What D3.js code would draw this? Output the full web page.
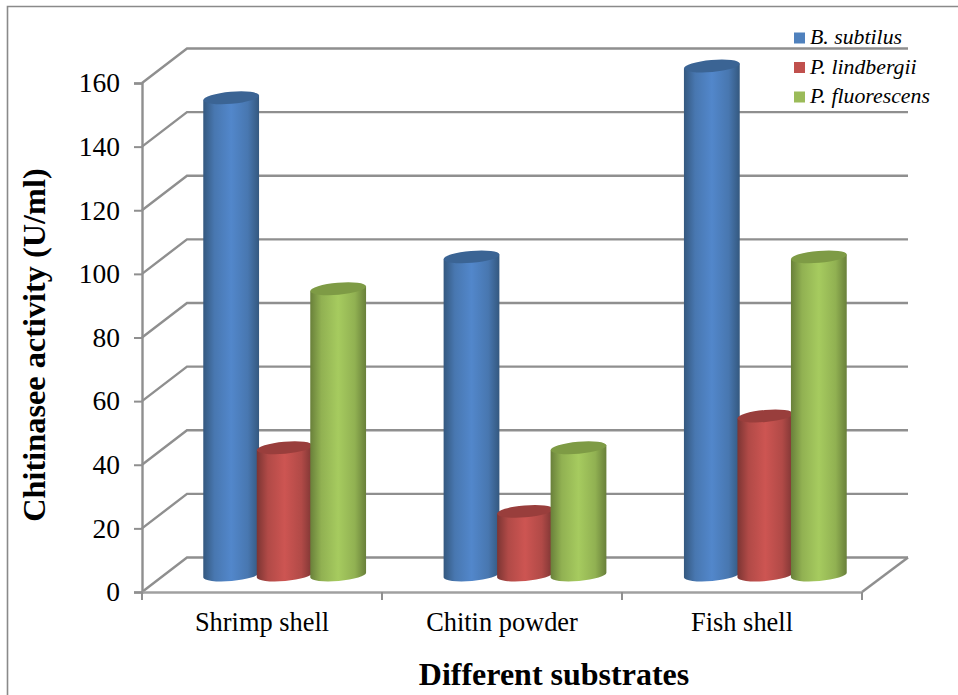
<!DOCTYPE html>
<html><head>
<meta charset="utf-8">
<script src="https://d3js.org/d3.v7.min.js"></script>
<style>
html,body{margin:0;padding:0;background:#fff;overflow:hidden}
text{font-family:"Liberation Serif",serif;fill:#000}
</style>
</head><body>
<svg id="chart" width="958" height="695"></svg>
<script>
const categories = ["Shrimp shell", "Chitin powder", "Fish shell"];
const seriesNames = ["B. subtilus", "P. lindbergii", "P. fluorescens"];
const subtilus = [150, 100, 160];
const lindbergii = [40, 20, 50];
const fluorescens = [90, 40, 100];
const yTicks = [0, 20, 40, 60, 80, 100, 120, 140, 160];
const seriesValues = [subtilus, lindbergii, fluorescens];
const fills = [
    {edge: "#34587f", mid: "#5287cb", top: "#3b6494"},
    {edge: "#7c3533", mid: "#cd5552", top: "#993e3c"},
    {edge: "#69803a", mid: "#a6cb5f", top: "#7e9b45"}
];
const swatches = ["#4f81bd", "#c0504d", "#9bbb59"];

const svg = d3.select("#chart");
const gray = "#8f8f8f";

// outer frame, only top and left survive in the picture
svg.append("path").attr("d", "M958,6.5H7.5V695").attr("fill", "none").attr("stroke", "#8a8a8a").attr("stroke-width", 1.6);

// front plane, back wall and the plane the cylinders stand on
const yFront = d3.scaleLinear().domain([0, 160]).range([592, 83]);
const yBack = d3.scaleLinear().domain([0, 160]).range([557.5, 48.5]);
const yBar = d3.scaleLinear().domain([0, 160]).range([575, 66]);
const xFront = d3.scaleBand().domain(categories).range([142, 862]);
const xBar = d3.scaleBand().domain(categories).range([164.5, 885.5]);
const xSeries = d3.scaleBand().domain(seriesNames).range([-80.25, 80.25]);
const depth = 45;
const xLeft = 142, xRight = 862;

// gradients
const defs = svg.append("defs");
fills.forEach((f, i) => {
    const g = defs.append("linearGradient").attr("id", "cyl" + i);
    g.append("stop").attr("offset", "0%").attr("stop-color", f.edge);
    g.append("stop").attr("offset", "20%").attr("stop-color", d3.interpolateRgb(f.edge, f.mid)(0.65));
    g.append("stop").attr("offset", "50%").attr("stop-color", f.mid);
    g.append("stop").attr("offset", "80%").attr("stop-color", d3.interpolateRgb(f.edge, f.mid)(0.65));
    g.append("stop").attr("offset", "100%").attr("stop-color", f.edge);
});

// gridlines on the wall and the floor
yTicks.forEach((d) => {
    svg.append("path")
        .attr("d", `M${xLeft},${yFront(d)}L${xLeft + depth},${yBack(d)}H${xRight + depth + 1}`)
        .attr("fill", "none").attr("stroke", gray).attr("stroke-width", 2.4);
});
svg.append("line")
    .attr("x1", xRight).attr("y1", yFront(0)).attr("x2", xRight + depth + 1).attr("y2", yBack(0))
    .attr("stroke", gray).attr("stroke-width", 2.4);

// y axis
const yAxis = svg.append("g").attr("transform", `translate(${xLeft},0)`)
    .call(d3.axisLeft(yFront).tickValues(yTicks).tickSize(8).tickPadding(14));
yAxis.selectAll(".domain").attr("stroke", gray).attr("stroke-width", 2.4);
yAxis.selectAll("line").attr("stroke", gray).attr("stroke-width", 2);
yAxis.selectAll("text").style("font-size", "27.5px").style("font-family", '"Liberation Serif",serif').attr("fill", "#000");

// x axis, ticks sit between the categories
const xAxis = svg.append("g").attr("transform", `translate(0,${yFront(0)})`)
    .call(d3.axisBottom(xFront).tickSize(0).tickPadding(20));
xAxis.selectAll(".domain").attr("stroke", "#a0a0a0").attr("stroke-width", 2.4);
xAxis.selectAll("text").style("font-size", "26.4px").style("font-family", '"Liberation Serif",serif').attr("fill", "#000");
svg.append("g").selectAll("line").data([0, 1, 2, 3]).join("line")
    .attr("x1", (d) => xLeft + d * xFront.bandwidth()).attr("x2", (d) => xLeft + d * xFront.bandwidth())
    .attr("y1", yFront(0)).attr("y2", yFront(0) + 8)
    .attr("stroke", gray).attr("stroke-width", 2);

// cylinders
const rx = 28, ry = 6, tilt = -5;
seriesNames.forEach((name, s) => {
    categories.forEach((cat, c) => {
        const cx = xBar(cat) + xBar.bandwidth() / 2 + xSeries(name) + xSeries.bandwidth() / 2;
        const top = yBar(seriesValues[s][c]);
        const base = yBar(0);
        const a = tilt * Math.PI / 180;
        const dx = rx * Math.cos(a), dy = rx * Math.sin(a);
        svg.append("path")
            .attr("d", `M${cx - dx},${top - dy}L${cx - dx},${base - dy}A${rx},${ry} ${tilt} 0 0 ${cx + dx},${base + dy}L${cx + dx},${top + dy}Z`)
            .attr("fill", `url(#cyl${s})`);
        svg.append("ellipse")
            .attr("cx", cx).attr("cy", top).attr("rx", rx).attr("ry", ry)
            .attr("transform", `rotate(${tilt} ${cx} ${top})`)
            .attr("fill", fills[s].top);
    });
});

// legend
const legendY = d3.scalePoint().domain(seriesNames).range([38, 97]);
seriesNames.forEach((name, s) => {
    svg.append("rect").attr("x", 794).attr("y", legendY(name) - 5.5).attr("width", 11).attr("height", 11).attr("fill", swatches[s]);
    svg.append("text").attr("x", 810).attr("y", legendY(name) + 6)
        .style("font-size", "21.8px").style("font-style", "italic").text(name);
});

// titles
svg.append("text").attr("transform", "translate(45,345) rotate(-90)").attr("text-anchor", "middle")
    .style("font-size", "32.3px").style("font-weight", "bold").text("Chitinasee activity (U/ml)");
svg.append("text").attr("x", 554).attr("y", 685).attr("text-anchor", "middle")
    .style("font-size", "32px").style("font-weight", "bold").text("Different substrates");
</script>
</body></html>
